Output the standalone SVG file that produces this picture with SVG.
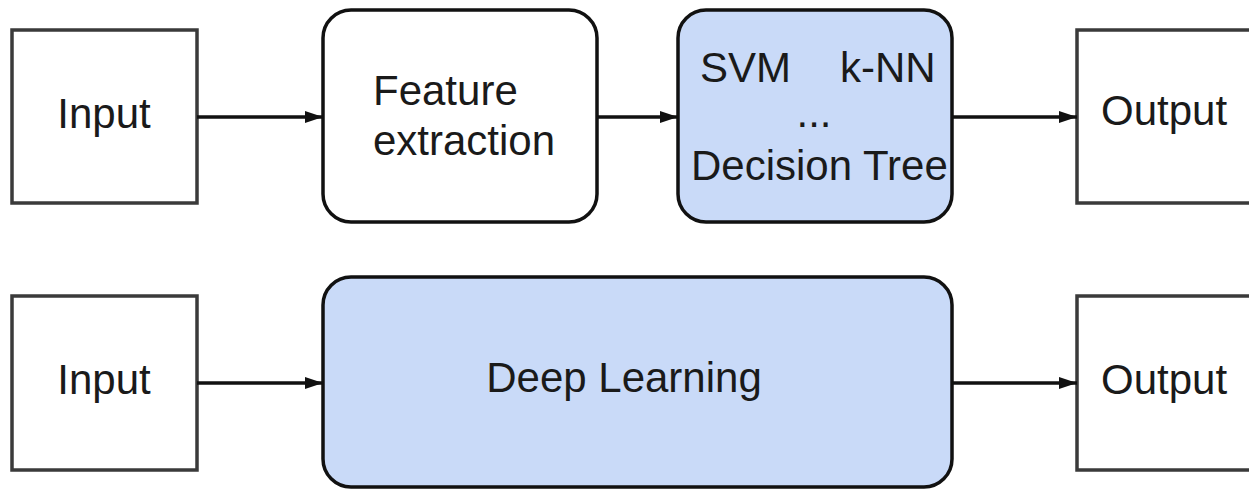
<svg xmlns="http://www.w3.org/2000/svg" width="1249" height="490" viewBox="0 0 1249 490">
<style>
.sq{fill:#ffffff;stroke:#3a3a3a;stroke-width:3.5}
.rd{stroke:#111111;stroke-width:3.5}
.w{fill:#ffffff}
.b{fill:#c9daf8}
text{font-family:"Liberation Sans",Arial,sans-serif;font-size:42px;fill:#1a1a1a}
.c{text-anchor:middle}
.conn{stroke:#111111;stroke-width:3.5;fill:none}
</style>
<defs>
<marker id="ah" markerWidth="18" markerHeight="12" refX="18" refY="6" orient="auto" markerUnits="userSpaceOnUse">
<path d="M0,0 L18,6 L0,12 Z" fill="#111111"/>
</marker>
</defs>
<rect width="1249" height="490" fill="#ffffff"/>
<g id="input1"><rect class="sq" x="12" y="30" width="185" height="173"/><text class="c" x="104" y="128">Input</text></g>
<g id="feature"><rect class="rd w" x="323" y="10" width="274" height="212" rx="28"/><text x="373" y="105">Feature</text><text x="373" y="155">extraction</text></g>
<g id="classifiers"><rect class="rd b" x="678" y="10" width="274" height="212" rx="28"/><text x="700" y="82">SVM</text><text x="840" y="82">k-NN</text><text class="c" x="814" y="127">...</text><text x="691" y="180">Decision Tree</text></g>
<g id="output1"><rect class="sq" x="1077" y="30" width="190" height="173"/><text x="1101" y="125">Output</text></g>
<g id="input2"><rect class="sq" x="12" y="296" width="185" height="174"/><text class="c" x="104" y="394">Input</text></g>
<g id="deep"><rect class="rd b" x="323" y="277" width="629" height="210" rx="28"/><text class="c" x="624" y="392">Deep Learning</text></g>
<g id="output2"><rect class="sq" x="1077" y="296" width="190" height="174"/><text x="1101" y="394">Output</text></g>
<g id="connectors">
<line class="conn" x1="197" y1="117" x2="323" y2="117" marker-end="url(#ah)"/>
<line class="conn" x1="597" y1="117" x2="678" y2="117" marker-end="url(#ah)"/>
<line class="conn" x1="952" y1="117" x2="1077" y2="117" marker-end="url(#ah)"/>
<line class="conn" x1="197" y1="383" x2="323" y2="383" marker-end="url(#ah)"/>
<line class="conn" x1="952" y1="383" x2="1077" y2="383" marker-end="url(#ah)"/>
</g>
</svg>
